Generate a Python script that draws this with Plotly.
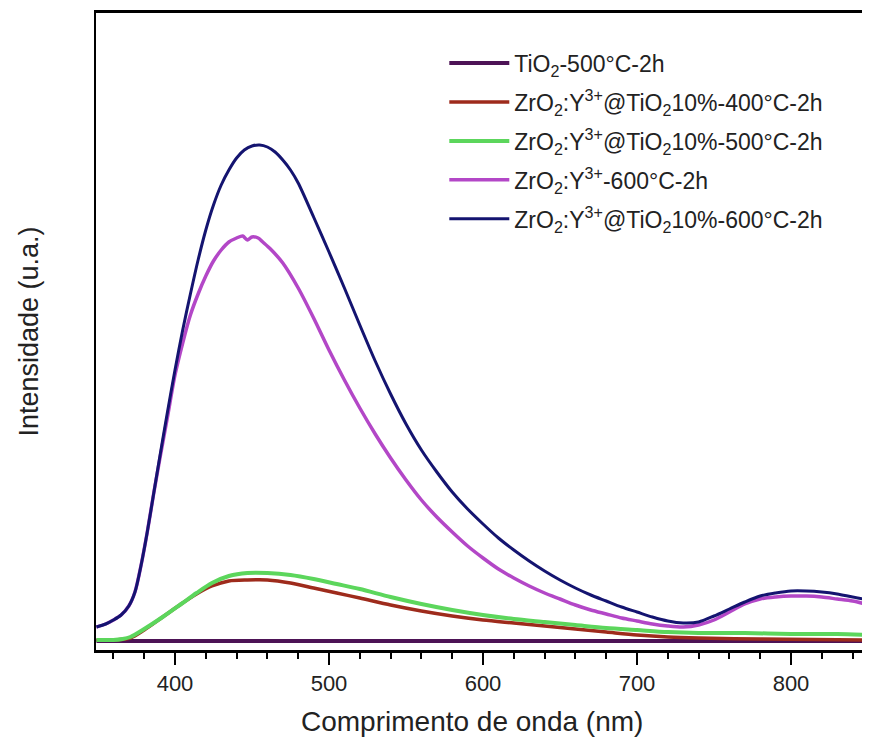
import plotly.graph_objects as go

# ---- data (wavelength in nm, intensity in arbitrary units) ----
wl_tio2 = [349, 400, 450, 500, 550, 600, 650, 700, 750, 800, 851]
i_tio2 = [9, 9, 9, 9, 9, 9, 9, 9, 9, 9, 9]

wl_red = [349, 360, 371, 380, 392, 404, 414, 424, 435, 447, 460, 475, 490, 505, 520, 540, 560, 580, 600, 620, 640, 660, 680, 700, 720, 740, 780, 851]
i_red = [10, 10, 12, 20, 33, 46, 56, 64, 69, 70, 70, 67, 62, 57, 52, 45, 39, 34, 30, 27, 24, 21, 18, 15, 13, 12, 11, 10]

wl_green = [349, 360, 366, 371, 380, 392, 404, 414, 424, 435, 447, 460, 475, 490, 505, 520, 540, 560, 580, 600, 620, 640, 660, 680, 700, 720, 740, 770, 800, 830, 851]
i_green = [10, 10, 11, 13, 21, 33, 46, 57, 67, 74, 77, 77, 75, 71, 66, 61, 53, 46, 40, 35, 31, 28, 25, 22, 20, 18, 17, 17, 16, 16, 15]

wl_mag = [349, 355, 360, 365, 370, 374, 378, 382, 386, 390, 395, 400, 405, 410, 415, 420, 425, 430, 435, 440, 444, 447, 450, 454, 457, 462, 470, 480, 490, 500, 510, 520, 530, 540, 550, 560, 570, 580, 590, 600, 610, 620, 630, 640, 650, 660, 670, 680, 690, 700, 710, 720, 730, 740, 750, 760, 770, 780, 790, 800, 810, 820, 830, 840, 851]
i_mag = [23, 26, 30, 35, 44, 58, 85, 118, 155, 190, 232, 275, 307, 335, 356, 374, 389, 400, 408, 412, 414, 410, 413, 412, 408, 401, 387, 362, 332, 300, 270, 242, 216, 192, 170, 150, 133, 118, 104, 92, 81, 72, 64, 57, 51, 45, 40, 36, 32, 29, 26, 24, 23, 25, 30, 38, 46, 51, 53, 54, 54, 53, 51, 49, 45]

wl_navy = [349, 355, 360, 365, 370, 374, 378, 382, 386, 390, 395, 400, 405, 410, 415, 420, 425, 430, 435, 440, 445, 450, 455, 460, 465, 470, 475, 480, 490, 500, 510, 520, 530, 540, 550, 560, 570, 580, 590, 600, 610, 620, 630, 640, 650, 660, 670, 680, 690, 700, 710, 720, 730, 740, 750, 760, 770, 780, 790, 800, 810, 820, 830, 840, 851]
i_navy = [23, 26, 30, 35, 44, 58, 85, 118, 155, 192, 237, 280, 320, 356, 390, 420, 445, 465, 480, 492, 500, 504, 505, 503, 498, 490, 480, 467, 433, 398, 362, 325, 289, 256, 226, 200, 178, 158, 141, 126, 112, 100, 89, 79, 70, 62, 55, 49, 43, 38, 33, 29, 27, 28, 34, 41, 48, 54, 57, 59, 59, 58, 56, 53, 50]

names = [
    "TiO<sub>2</sub>-500°C-2h",
    "ZrO<sub>2</sub>:Y<sup>3+</sup>@TiO<sub>2</sub>10%-400°C-2h",
    "ZrO<sub>2</sub>:Y<sup>3+</sup>@TiO<sub>2</sub>10%-500°C-2h",
    "ZrO<sub>2</sub>:Y<sup>3+</sup>-600°C-2h",
    "ZrO<sub>2</sub>:Y<sup>3+</sup>@TiO<sub>2</sub>10%-600°C-2h",
]
colors = ["#4d1356", "#9e2b1c", "#5cd65c", "#b347c7", "#141470"]
widths = [4, 3.5, 4, 3.5, 3]

x_title = "Comprimento de onda (nm)"
y_title = "Intensidade (u.a.)"

series = [(wl_tio2, i_tio2), (wl_red, i_red), (wl_green, i_green), (wl_mag, i_mag), (wl_navy, i_navy)]

fig = go.Figure()
for k, ((x, y), n, c, w) in enumerate(zip(series, names, colors, widths)):
    fig.add_trace(go.Scatter(x=x, y=y, name=n, mode="lines", legendgroup=f"g{k}",
                             line=dict(color=c, width=w, shape="spline", smoothing=0.8)))

font_family = "Liberation Sans, Arial, sans-serif"
# page body adds an 8 px offset, so the figure is smaller and margins shifted
fig.update_layout(
    width=862, height=731,
    margin=dict(l=88, r=0, t=5, b=89),
    plot_bgcolor="white", paper_bgcolor="white",
    font=dict(family=font_family, color="#222"),
    showlegend=True,
    legend=dict(x=0.45, y=0.955, xanchor="left", yanchor="top",
                font=dict(size=23, family=font_family, color="#222"),
                itemwidth=60,
                bgcolor="rgba(0,0,0,0)", tracegroupgap=6),
    annotations=[dict(text=x_title, xref="paper", yref="paper", x=0.486, y=-0.113,
                      xanchor="center", yanchor="middle", showarrow=False,
                      font=dict(size=28, family=font_family, color="#222"))],
)
fig.update_xaxes(
    range=[348.7, 851.3], showgrid=False, zeroline=False,
    showline=True, linecolor="black", linewidth=2.5, mirror=True,
    tickvals=[400, 500, 600, 700, 800], ticks="outside", ticklen=12, tickwidth=2, tickcolor="black",
    tickfont=dict(size=22, family=font_family, color="#222"),
    minor=dict(dtick=20, tick0=0, ticks="outside", ticklen=6, tickwidth=2, tickcolor="black"),
)
fig.update_yaxes(
    range=[0, 637], showgrid=False, zeroline=False,
    showline=True, linecolor="black", linewidth=2,
    showticklabels=False, ticks="",
    title=dict(text=y_title, font=dict(size=27, family=font_family, color="#222"), standoff=48),
)

fig.write_html("out.html")
